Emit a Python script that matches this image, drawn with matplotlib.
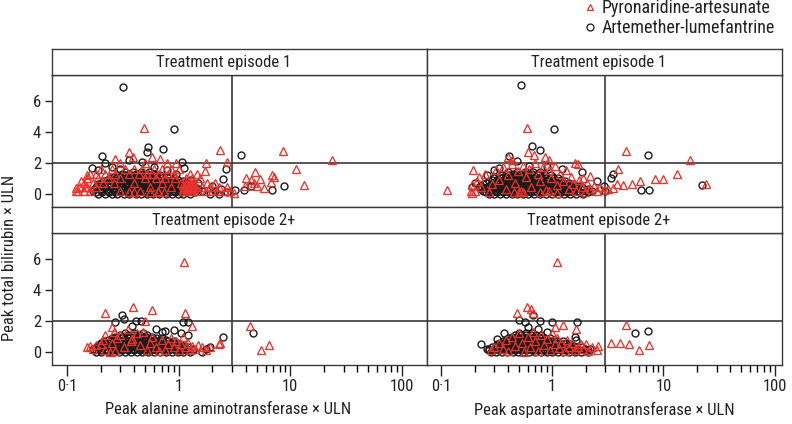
import numpy as np
import matplotlib.pyplot as plt
from matplotlib import font_manager
from matplotlib.lines import Line2D

# pick a narrow-ish sans if available
names = {f.name for f in font_manager.fontManager.ttflist}
for fam in ["Liberation Sans Narrow", "Roboto Condensed", "Roboto"]:
    if fam in names:
        break
plt.rcParams['font.family'] = [fam, 'DejaVu Sans']

RED = '#e8322b'
BLACK = '#1a1a1a'
FRAME = '#3a3a3a'

# ---- data: (peak enzyme x ULN, peak bilirubin x ULN) ----
# dense clusters given as rows: (bilirubin level, [enzyme values])
alt1_al_rows = [
    (0.0, [0.19, 0.22, 0.25, 0.28, 0.32, 0.36, 0.41, 0.46, 0.52, 0.59, 0.67, 0.76, 0.86, 0.98, 1.1, 1.25, 1.9, 2.3]),
    (0.1, [0.18, 0.205, 0.235, 0.27, 0.3, 0.34, 0.385, 0.435, 0.49, 0.555, 0.63, 0.71, 0.81, 0.92, 1.04, 1.18, 1.4]),
    (0.2, [0.17, 0.2, 0.23, 0.26, 0.3, 0.34, 0.38, 0.43, 0.49, 0.55, 0.62, 0.71, 0.8, 0.91, 1.03, 1.17, 1.35, 1.6, 2.1]),
    (0.3, [0.175, 0.2, 0.225, 0.255, 0.29, 0.33, 0.37, 0.42, 0.47, 0.53, 0.6, 0.68, 0.77, 0.87, 0.99, 1.12, 1.28, 1.5]),
    (0.4, [0.18, 0.21, 0.24, 0.28, 0.31, 0.35, 0.4, 0.45, 0.51, 0.58, 0.66, 0.74, 0.84, 0.95, 1.08, 1.22, 1.4]),
    (0.5, [0.185, 0.215, 0.245, 0.275, 0.31, 0.35, 0.395, 0.445, 0.5, 0.56, 0.63, 0.71, 0.8, 0.91, 1.03, 1.17]),
    (0.6, [0.19, 0.23, 0.26, 0.29, 0.33, 0.37, 0.42, 0.47, 0.53, 0.6, 0.68, 0.77, 0.87, 1.0, 1.12, 1.3]),
    (0.7, [0.2, 0.23, 0.26, 0.3, 0.34, 0.38, 0.43, 0.48, 0.54, 0.61, 0.69, 0.78, 0.88, 1.0, 1.15]),
    (0.8, [0.21, 0.25, 0.28, 0.32, 0.36, 0.4, 0.45, 0.51, 0.57, 0.65, 0.73, 0.83, 0.95, 1.1]),
    (0.9, [0.225, 0.26, 0.295, 0.335, 0.375, 0.42, 0.47, 0.53, 0.6, 0.67, 0.76, 0.86, 0.98]),
    (1.0, [0.24, 0.28, 0.31, 0.35, 0.39, 0.44, 0.5, 0.56, 0.63, 0.71, 0.8, 0.9]),
    (1.1, [0.26, 0.3, 0.34, 0.38, 0.43, 0.48, 0.54, 0.61, 0.69, 0.78]),
    (1.2, [0.28, 0.33, 0.37, 0.42, 0.47, 0.53, 0.6, 0.68]),
    (1.3, [0.31, 0.36, 0.41, 0.47, 0.53, 0.6]),
    (1.4, [0.33, 0.39, 0.46, 0.54]),
]
alt1_al_pts = [(0.314, 6.9), (0.906, 4.19), (0.526, 3.0), (0.515, 2.66), (0.725, 2.88), (0.203, 2.43),
               (3.59, 2.5), (0.22, 2.0), (0.36, 2.19), (0.465, 2.02), (1.07, 2.04), (0.165, 1.63),
               (0.19, 1.5), (1.12, 1.65), (2.65, 1.6), (2.5, 0.97), (4.4, 0.47), (3.85, 0.26),
               (6.9, 0.26), (8.7, 0.5), (3.2, 0.25), (0.297, 1.59), (0.25, 1.75), (0.6, 1.7),
               (0.78, 1.55), (0.95, 1.3), (1.25, 0.9), (1.5, 0.7), (2.0, 0.5), (2.4, 0.3), (2.7, 0.1)]
alt1_pa_rows = [
    (2.0, [0.3, 0.5, 0.78, 0.95]),
    (1.6, [0.2, 0.25, 0.33, 0.4, 0.47, 0.6, 0.7, 0.85, 1.0]),
    (1.3, [0.16, 0.18, 0.22, 0.27, 0.36, 0.44, 0.52, 0.58, 0.66, 0.8, 0.9, 1.25, 1.45]),
    (1.0, [0.15, 0.19, 0.23, 0.3, 0.5, 0.62, 0.75, 0.92, 1.15, 1.3, 1.55]),
    (0.7, [0.14, 0.17, 0.21, 0.26, 0.4, 0.7, 1.05, 1.15, 1.25, 1.35, 1.8, 2.1]),
    (0.55, [1.1, 1.16, 1.22, 1.28, 1.34]),
    (0.45, [0.13, 0.15, 0.18, 0.55, 0.85, 1.12, 1.2, 1.3, 1.42, 1.6, 1.9, 2.3, 2.7]),
    (0.3, [1.1, 1.15, 1.2, 1.25, 1.3, 1.36]),
    (0.2, [0.12, 0.14, 0.16, 0.45, 0.65, 1.1, 1.18, 1.28, 1.5, 1.75, 2.0, 2.2, 2.6, 2.9]),
]
alt1_pa_pts = [(0.484, 4.23), (2.34, 2.84), (8.65, 2.77), (23.5, 2.19), (0.36, 2.69), (0.268, 2.24),
               (0.58, 2.35), (0.68, 2.26), (0.39, 2.35), (2.73, 2.02), (1.77, 2.0), (11.2, 1.59),
               (4.8, 1.37), (1.72, 1.45), (6.8, 1.2), (7.2, 1.05), (5.4, 0.95), (4.0, 1.0), (4.4, 0.9),
               (4.7, 0.7), (13.3, 0.58), (6.7, 0.75), (0.149, 1.18), (0.134, 0.8), (0.12, 0.38),
               (0.125, 0.2), (0.145, 0.45), (0.36, 0.1), (0.4, 0.1), (0.3, 0.2), (0.55, 0.08),
               (0.65, 0.13), (0.73, 0.13), (3.1, 0.05), (3.9, 0.47), (5.0, 0.47), (5.8, 0.38)]

ast1_al_rows = [
    (0.0, [0.27, 0.3, 0.34, 0.38, 0.43, 0.48, 0.54, 0.61, 0.69, 0.78, 0.88, 1.0, 1.13, 1.28, 1.45, 1.65, 1.9]),
    (0.1, [0.255, 0.285, 0.32, 0.36, 0.405, 0.455, 0.51, 0.575, 0.65, 0.73, 0.83, 0.94, 1.06, 1.2, 1.36, 1.55, 1.78, 2.1]),
    (0.2, [0.24, 0.27, 0.31, 0.35, 0.39, 0.44, 0.5, 0.56, 0.63, 0.71, 0.8, 0.9, 1.02, 1.15, 1.3, 1.48, 1.7, 2.0, 2.3]),
    (0.3, [0.23, 0.26, 0.29, 0.33, 0.37, 0.415, 0.465, 0.525, 0.59, 0.665, 0.75, 0.85, 0.96, 1.08, 1.22, 1.38, 1.58, 1.8, 2.1]),
    (0.4, [0.22, 0.26, 0.29, 0.33, 0.37, 0.42, 0.47, 0.53, 0.6, 0.67, 0.76, 0.86, 0.97, 1.1, 1.24, 1.4, 1.6, 1.85]),
    (0.5, [0.23, 0.27, 0.305, 0.345, 0.385, 0.435, 0.49, 0.55, 0.62, 0.7, 0.79, 0.89, 1.0, 1.13, 1.28, 1.46, 1.7]),
    (0.6, [0.24, 0.28, 0.32, 0.36, 0.4, 0.45, 0.51, 0.57, 0.64, 0.72, 0.82, 0.93, 1.05, 1.18, 1.35, 1.55]),
    (0.7, [0.255, 0.295, 0.335, 0.375, 0.42, 0.47, 0.53, 0.6, 0.67, 0.76, 0.86, 0.97, 1.1, 1.25, 1.42]),
    (0.8, [0.27, 0.31, 0.35, 0.39, 0.44, 0.49, 0.55, 0.62, 0.7, 0.79, 0.89, 1.0, 1.13, 1.3]),
    (0.9, [0.29, 0.33, 0.37, 0.41, 0.46, 0.52, 0.58, 0.65, 0.74, 0.83, 0.94, 1.06, 1.2]),
    (1.0, [0.3, 0.35, 0.39, 0.43, 0.48, 0.54, 0.61, 0.69, 0.78, 0.88, 1.0, 1.12]),
    (1.1, [0.33, 0.38, 0.43, 0.48, 0.55, 0.62, 0.7, 0.8, 0.9, 1.02]),
    (1.2, [0.35, 0.41, 0.46, 0.52, 0.59, 0.67, 0.76, 0.86, 0.97]),
    (1.3, [0.38, 0.44, 0.51, 0.58, 0.66, 0.75, 0.85]),
    (1.4, [0.4, 0.48, 0.57, 0.67, 0.78]),
]
ast1_al_pts = [(0.52, 6.99), (1.04, 4.17), (0.66, 3.1), (0.78, 2.84), (7.2, 2.5), (22.3, 0.54),
               (6.3, 0.26), (7.4, 0.26), (0.41, 2.4), (0.48, 2.1), (0.33, 1.63), (0.19, 0.45),
               (3.4, 1.0), (3.5, 1.3), (1.84, 1.4), (1.22, 1.6), (0.3, 1.5), (0.26, 1.2), (0.2, 0.7),
               (0.62, 1.8), (0.9, 1.7), (2.5, 0.8), (2.9, 0.5), (3.0, 0.2)]
ast1_pa_pts = [(0.19, 0.55), (0.2, 0.2), (0.21, 0.8), (0.22, 1.1), (0.23, 0.4), (0.25, 1.3), (0.27, 0.1),
               (0.29, 0.6), (0.31, 1.5), (0.33, 0.9), (0.36, 1.7), (0.38, 0.3), (0.4, 1.2), (0.43, 1.9),
               (0.46, 0.7), (0.49, 1.45), (0.52, 0.15), (0.55, 1.8), (0.58, 1.05), (0.62, 1.6),
               (0.65, 0.45), (0.7, 1.95), (0.74, 1.3), (0.78, 0.8), (0.83, 1.75), (0.88, 0.25),
               (0.93, 1.5), (0.98, 1.0), (1.05, 1.8), (1.1, 0.55), (1.17, 1.25), (1.25, 0.8),
               (1.32, 1.55), (1.4, 0.3), (1.48, 1.05), (1.55, 0.6), (1.65, 0.2), (1.75, 0.9),
               (1.85, 0.45), (1.95, 0.1), (2.05, 0.7), (2.2, 0.3), (2.35, 0.5), (2.5, 0.15),
               (2.7, 0.4), (2.9, 0.25), (3.2, 0.3), (3.5, 0.35), (3.8, 0.6),
               (0.59, 4.23), (4.56, 2.77), (17.4, 2.19), (13.2, 1.27), (24.0, 0.63), (8.4, 0.95),
               (9.8, 0.95), (6.2, 0.8), (3.9, 1.61), (5.2, 0.6), (4.3, 0.55), (0.113, 0.26),
               (0.195, 1.53), (0.6, 2.7), (0.69, 2.5), (0.4, 2.35), (0.43, 2.2), (0.86, 2.35),
               (0.93, 2.15), (1.6, 1.95), (1.7, 1.9), (0.185, 0.2), (0.19, 0.05), (0.45, 0.08),
               (0.5, 0.08), (0.55, 0.08), (0.78, 0.1), (0.94, 0.15), (1.1, 0.05), (2.2, 1.15), (1.9, 1.0)]

alt2_al_rows = [
    (0.0, [0.18, 0.2, 0.23, 0.26, 0.29, 0.33, 0.37, 0.42, 0.47, 0.53, 0.6, 0.68, 0.77, 0.87, 0.98, 1.1, 1.25, 1.6]),
    (0.1, [0.175, 0.195, 0.22, 0.245, 0.275, 0.31, 0.35, 0.395, 0.445, 0.5, 0.56, 0.63, 0.72, 0.82, 0.92, 1.04, 1.17, 1.35]),
    (0.2, [0.17, 0.19, 0.22, 0.25, 0.28, 0.31, 0.35, 0.4, 0.45, 0.5, 0.57, 0.64, 0.72, 0.82, 0.92, 1.04, 1.18, 1.35, 1.75]),
    (0.3, [0.18, 0.2, 0.23, 0.26, 0.29, 0.325, 0.365, 0.41, 0.46, 0.52, 0.58, 0.66, 0.74, 0.84, 0.95, 1.06, 1.2]),
    (0.4, [0.19, 0.21, 0.24, 0.27, 0.3, 0.34, 0.38, 0.43, 0.48, 0.54, 0.61, 0.69, 0.78, 0.88, 1.0, 1.12]),
    (0.5, [0.195, 0.22, 0.25, 0.28, 0.315, 0.355, 0.4, 0.45, 0.5, 0.57, 0.64, 0.72, 0.81, 0.91, 1.03]),
    (0.6, [0.2, 0.23, 0.26, 0.29, 0.33, 0.37, 0.41, 0.46, 0.52, 0.59, 0.66, 0.75, 0.85, 0.96]),
    (0.7, [0.215, 0.245, 0.275, 0.31, 0.35, 0.39, 0.44, 0.5, 0.56, 0.63, 0.71, 0.8, 0.9]),
    (0.8, [0.23, 0.26, 0.29, 0.33, 0.37, 0.42, 0.47, 0.53, 0.6, 0.68, 0.77]),
    (0.9, [0.25, 0.28, 0.31, 0.35, 0.39, 0.44, 0.5, 0.56, 0.63, 0.7]),
    (1.0, [0.27, 0.31, 0.35, 0.4, 0.45, 0.51, 0.58]),
    (1.1, [0.3, 0.35, 0.4, 0.45, 0.52]),
    (1.2, [0.33, 0.4, 0.48]),
]
alt2_al_pts = [(0.31, 2.37), (0.32, 2.15), (0.27, 1.94), (0.41, 2.0), (0.46, 2.0), (1.1, 1.94), (1.2, 1.94),
               (4.67, 1.25), (2.5, 1.0), (1.9, 0.35), (0.9, 1.4), (1.05, 1.25), (0.7, 1.3), (0.38, 1.7),
               (1.2, 1.1), (0.62, 1.5), (0.75, 1.35)]
alt2_pa_pts = [(0.15, 0.3), (0.16, 0.4), (0.17, 0.2), (0.18, 0.45), (0.2, 0.5), (0.21, 0.8), (0.22, 0.1),
               (0.24, 0.0), (0.25, 0.6), (0.27, 0.05), (0.28, 0.9), (0.3, 1.1), (0.32, 0.3), (0.35, 1.5),
               (0.37, 0.7), (0.38, 0.85), (0.42, 1.2), (0.45, 0.45), (0.48, 1.3), (0.52, 0.1), (0.55, 0.6),
               (0.58, 1.0), (0.62, 0.3), (0.66, 0.05), (0.7, 0.8), (0.75, 0.1), (0.8, 0.5), (0.85, 0.9),
               (0.9, 0.3), (0.95, 0.7), (1.0, 0.15), (1.05, 0.5), (1.1, 1.0), (1.15, 0.3), (1.2, 0.6),
               (1.25, 0.1), (1.3, 0.4), (1.4, 0.2), (1.5, 0.45), (1.6, 0.3), (1.75, 0.15), (1.9, 0.35),
               (2.3, 0.5),
               (1.11, 5.79), (0.22, 2.54), (0.39, 2.9), (0.57, 2.73), (1.14, 2.54), (4.35, 1.68),
               (5.5, 0.15), (6.4, 0.43), (1.3, 1.68), (2.34, 0.58), (0.25, 1.6), (0.26, 1.3),
               (0.5, 2.0), (0.22, 1.1), (0.38, 0.85)]

ast2_al_rows = [
    (0.0, [0.28, 0.31, 0.35, 0.39, 0.44, 0.49, 0.55, 0.62, 0.7, 0.79, 0.89, 1.0, 1.12, 1.26, 1.42, 1.6, 1.8, 2.1]),
    (0.1, [0.27, 0.295, 0.33, 0.37, 0.415, 0.465, 0.52, 0.585, 0.66, 0.745, 0.84, 0.945, 1.06, 1.19, 1.34, 1.5, 1.7, 1.95]),
    (0.2, [0.27, 0.3, 0.34, 0.38, 0.42, 0.47, 0.53, 0.6, 0.67, 0.75, 0.85, 0.95, 1.07, 1.2, 1.35, 1.52, 1.72, 1.95, 2.2]),
    (0.3, [0.29, 0.32, 0.36, 0.4, 0.45, 0.5, 0.56, 0.63, 0.71, 0.8, 0.9, 1.01, 1.14, 1.28, 1.45, 1.65, 1.85]),
    (0.4, [0.31, 0.35, 0.39, 0.44, 0.49, 0.55, 0.62, 0.69, 0.78, 0.87, 0.98, 1.1, 1.24, 1.4, 1.58]),
    (0.5, [0.32, 0.36, 0.4, 0.45, 0.51, 0.57, 0.64, 0.72, 0.8, 0.9, 1.01, 1.14, 1.28, 1.45]),
    (0.6, [0.34, 0.38, 0.42, 0.47, 0.53, 0.59, 0.66, 0.74, 0.83, 0.93, 1.05, 1.18, 1.33]),
    (0.7, [0.36, 0.4, 0.45, 0.5, 0.56, 0.62, 0.7, 0.78, 0.87, 0.98, 1.1, 1.24]),
    (0.8, [0.38, 0.42, 0.47, 0.52, 0.58, 0.65, 0.73, 0.82, 0.92, 1.03]),
    (0.9, [0.4, 0.45, 0.5, 0.56, 0.62, 0.69, 0.77, 0.86, 0.96]),
    (1.0, [0.43, 0.48, 0.54, 0.61, 0.68, 0.76]),
    (1.1, [0.46, 0.52, 0.58, 0.65, 0.72, 0.8]),
    (1.2, [0.5, 0.58, 0.66]),
]
ast2_al_pts = [(0.23, 0.54), (0.26, 0.22), (0.32, 0.86), (0.37, 1.23), (0.5, 2.1), (0.57, 1.97), (0.78, 2.0),
               (1.0, 1.97), (1.66, 1.97), (0.67, 2.37), (5.5, 1.25), (7.3, 1.35), (2.1, 0.15),
               (1.6, 1.0), (1.65, 0.8), (0.6, 1.6), (0.75, 1.5), (0.9, 1.3)]
ast2_pa_pts = [(0.28, 0.15), (0.3, 0.35), (0.33, 0.55), (0.36, 0.2), (0.38, 0.8), (0.4, 0.05), (0.43, 0.95),
               (0.46, 0.4), (0.5, 1.2), (0.53, 0.6), (0.56, 0.0), (0.6, 1.0), (0.63, 0.35), (0.67, 1.3),
               (0.7, 0.7), (0.75, 0.05), (0.8, 1.1), (0.85, 0.45), (0.9, 0.85), (0.95, 0.15), (1.0, 1.2),
               (1.05, 0.5), (1.1, 0.9), (1.15, 0.25), (1.2, 0.6), (1.3, 0.05), (1.35, 0.8), (1.4, 0.35),
               (1.5, 0.55), (1.6, 0.1), (1.7, 0.3), (1.8, 0.5), (1.9, 0.2), (2.1, 0.05), (2.3, 0.3),
               (2.5, 0.15),
               (1.11, 5.79), (0.48, 2.54), (0.59, 2.9), (0.64, 2.75), (0.67, 2.55), (4.56, 1.72),
               (1.26, 1.72), (1.06, 1.6), (1.63, 1.5), (3.4, 0.55), (4.1, 0.6), (4.9, 0.5), (6.0, 0.15),
               (7.4, 0.43), (2.6, 0.37), (2.0, 0.5)]

x_ticks = [0.1, 1, 10, 100]
x_ticklabels = ['0·1', '1', '10', '100']
y_ticks = [0, 2, 4, 6]
strip_titles = ['Treatment episode 1', 'Treatment episode 1', 'Treatment episode 2+', 'Treatment episode 2+']
x_titles = ['Peak alanine aminotransferase × ULN', 'Peak aspartate aminotransferase × ULN']
y_title = 'Peak total bilirubin × ULN'
legend_labels = ['Pyronaridine-artesunate', 'Artemether-lumefantrine']


def unpack(rows=(), pts=()):
    xs, ys = [], []
    for yv, xl in rows:
        xs += list(xl)
        ys += [yv] * len(xl)
    for xv, yv in pts:
        xs.append(xv)
        ys.append(yv)
    return np.array(xs), np.array(ys)


panels = [
    (unpack(alt1_al_rows, alt1_al_pts), unpack(alt1_pa_rows, alt1_pa_pts)),
    (unpack(ast1_al_rows, ast1_al_pts), unpack((), ast1_pa_pts)),
    (unpack(alt2_al_rows, alt2_al_pts), unpack((), alt2_pa_pts)),
    (unpack(ast2_al_rows, ast2_al_pts), unpack((), ast2_pa_pts)),
]

W, H = 792, 424
fig = plt.figure(figsize=(W / 100, H / 100), dpi=100)


def fx(px):
    return px / W


def fy(py):
    return 1 - py / H


cols = [(52.3, 426.7, (0.0734, 167)), (426.7, 781.7, (0.0743, 115.6))]
rows = [(48.7, 74.7, 206.7), (206.7, 233.3, 365.0)]
strip_cx = [224, 599]
ylim = (-0.84, 7.67)

for i in range(4):
    r, c = divmod(i, 2)
    x0, x1, xl = cols[c]
    s0, p0, p1 = rows[r]
    ax = fig.add_axes([fx(x0), fy(p1), fx(x1 - x0), (p1 - p0) / H])
    sx = fig.add_axes([fx(x0), fy(p0), fx(x1 - x0), (p0 - s0) / H])
    sx.set_xticks([])
    sx.set_yticks([])
    sx.text((strip_cx[c] - x0) / (x1 - x0), 0.47, strip_titles[i], ha='center', va='center',
            fontsize=12, color='#222222', transform=sx.transAxes)
    for a in (ax, sx):
        for sp in a.spines.values():
            sp.set_color(FRAME)
            sp.set_linewidth(1.0)

    (axl, ayl), (pxl, pyl) = panels[i]
    ax.plot(axl, ayl, linestyle='none', marker='o', ms=5.0, mfc='none', mec=BLACK, mew=1.0)
    ax.plot(pxl, pyl, linestyle='none', marker='^', ms=5.2, mfc='none', mec=RED, mew=0.95)
    ax.axvline(3, color=FRAME, lw=1.2, zorder=0.5)
    ax.axhline(2, color=FRAME, lw=1.2, zorder=0.5)

    ax.set_xscale('log')
    ax.set_xlim(*xl)
    ax.set_ylim(*ylim)
    ax.tick_params(colors='#222222', labelsize=12, width=1.0)
    ax.tick_params(axis='y', length=5, pad=3)
    ax.tick_params(axis='x', which='major', length=8, pad=2)
    ax.tick_params(axis='x', which='minor', length=5, width=1.0)
    if r == 1:
        ax.set_xticks(x_ticks)
        ax.set_xticklabels(x_ticklabels)
        ax.set_xticks([m * 10.0 ** e for e in (-1, 0, 1) for m in range(2, 10)], minor=True)
        ax.xaxis.set_minor_formatter(plt.NullFormatter())
    else:
        ax.set_xticks([])
        ax.set_xticks([], minor=True)
    if c == 0:
        ax.set_yticks(y_ticks)
    else:
        ax.set_yticks([])

fig.text(fx(228), fy(410), x_titles[0], ha='center', va='center', fontsize=12, color='#222222')
fig.text(fx(604), fy(410), x_titles[1], ha='center', va='center', fontsize=12, color='#222222')
fig.text(fx(10), fy(258), y_title, ha='center', va='center', rotation=90, fontsize=12, color='#222222')

handles = [Line2D([], [], linestyle='none', marker='^', ms=5, mfc='none', mec=RED, mew=0.9),
           Line2D([], [], linestyle='none', marker='o', ms=5, mfc='none', mec=BLACK, mew=0.9)]
fig.legend(handles, legend_labels, loc='upper left', bbox_to_anchor=(fx(584), fy(-1)), frameon=False,
           fontsize=13, handlelength=0.7, handletextpad=0.3, labelspacing=0.12, borderaxespad=0,
           borderpad=0, labelcolor='#222222')

fig.savefig('out.png', dpi=100)
